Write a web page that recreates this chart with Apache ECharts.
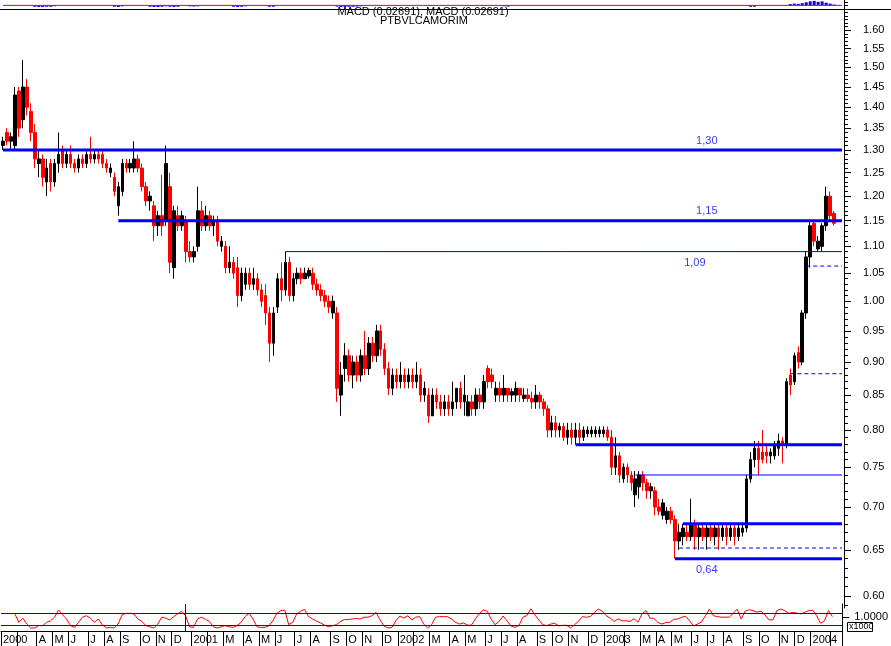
<!DOCTYPE html>
<html><head><meta charset="utf-8">
<script src="https://cdn.jsdelivr.net/npm/echarts@6/dist/echarts.min.js"></script>
<style>html,body{margin:0;padding:0;background:#fff}#c{width:891px;height:646px}</style>
</head><body><div id="c"></div>
<script>
// weekly categories (Friday of each week); last two are empty padding weeks
const weeks = [
'2000-02-04','2000-02-11','2000-02-18','2000-02-25','2000-03-03','2000-03-10','2000-03-17','2000-03-24','2000-03-31','2000-04-07','2000-04-14','2000-04-21','2000-04-28','2000-05-05','2000-05-12','2000-05-19','2000-05-26','2000-06-02','2000-06-09','2000-06-16','2000-06-23','2000-06-30','2000-07-07','2000-07-14','2000-07-21','2000-07-28','2000-08-04','2000-08-11','2000-08-18','2000-08-25','2000-09-01','2000-09-08','2000-09-15','2000-09-22','2000-09-29','2000-10-06','2000-10-13','2000-10-20','2000-10-27','2000-11-03','2000-11-10','2000-11-17','2000-11-24','2000-12-01','2000-12-08','2000-12-15','2000-12-22','2000-12-29',
'2001-01-05','2001-01-12','2001-01-19','2001-01-26','2001-02-02','2001-02-09','2001-02-16','2001-02-23','2001-03-02','2001-03-09','2001-03-16','2001-03-23','2001-03-30','2001-04-06','2001-04-13','2001-04-20','2001-04-27','2001-05-04','2001-05-11','2001-05-18','2001-05-25','2001-06-01','2001-06-08','2001-06-15','2001-06-22','2001-06-29','2001-07-06','2001-07-13','2001-07-20','2001-07-27','2001-08-03','2001-08-10','2001-08-17','2001-08-24','2001-08-31','2001-09-07','2001-09-14','2001-09-21','2001-09-28','2001-10-05','2001-10-12','2001-10-19','2001-10-26','2001-11-02','2001-11-09','2001-11-16','2001-11-23','2001-11-30','2001-12-07','2001-12-14','2001-12-21','2001-12-28',
'2002-01-04','2002-01-11','2002-01-18','2002-01-25','2002-02-01','2002-02-08','2002-02-15','2002-02-22','2002-03-01','2002-03-08','2002-03-15','2002-03-22','2002-03-29','2002-04-05','2002-04-12','2002-04-19','2002-04-26','2002-05-03','2002-05-10','2002-05-17','2002-05-24','2002-05-31','2002-06-07','2002-06-14','2002-06-21','2002-06-28','2002-07-05','2002-07-12','2002-07-19','2002-07-26','2002-08-02','2002-08-09','2002-08-16','2002-08-23','2002-08-30','2002-09-06','2002-09-13','2002-09-20','2002-09-27','2002-10-04','2002-10-11','2002-10-18','2002-10-25','2002-11-01','2002-11-08','2002-11-15','2002-11-22','2002-11-29','2002-12-06','2002-12-13','2002-12-20','2002-12-27',
'2003-01-03','2003-01-10','2003-01-17','2003-01-24','2003-01-31','2003-02-07','2003-02-14','2003-02-21','2003-02-28','2003-03-07','2003-03-14','2003-03-21','2003-03-28','2003-04-04','2003-04-11','2003-04-18','2003-04-25','2003-05-02','2003-05-09','2003-05-16','2003-05-23','2003-05-30','2003-06-06','2003-06-13','2003-06-20','2003-06-27','2003-07-04','2003-07-11','2003-07-18','2003-07-25','2003-08-01','2003-08-08','2003-08-15','2003-08-22','2003-08-29','2003-09-05','2003-09-12','2003-09-19','2003-09-26','2003-10-03','2003-10-10','2003-10-17','2003-10-24','2003-10-31','2003-11-07','2003-11-14','2003-11-21','2003-11-28','2003-12-05','2003-12-12','2003-12-19','2003-12-26',
'2004-01-02','2004-01-09','2004-01-16','2004-01-23','2004-01-30','2004-02-06','2004-02-13','2004-02-20'
];

const priceOpen = [
1.31,1.34,1.32,1.31,1.44,1.37,1.45,1.39,1.34,1.27,1.28,1.23,1.27,1.23,1.27,1.30,1.27,1.29,1.27,1.26,
1.28,1.27,1.29,1.28,1.29,1.29,1.27,1.25,1.24,1.18,1.21,1.27,1.26,1.26,1.28,1.26,1.22,1.19,1.18,1.14,
1.16,1.15,1.22,1.06,1.16,1.14,1.15,1.09,1.08,1.10,1.17,1.14,1.16,1.14,1.15,1.10,1.10,1.06,1.07,1.06,
1.01,1.03,1.05,1.03,1.04,1.02,1.01,0.98,0.93,0.99,1.04,1.02,1.07,1.01,1.04,1.05,1.04,1.045,1.05,1.03,
1.02,1.01,1.00,0.98,0.98,0.85,0.89,0.91,0.88,0.90,0.88,0.91,0.89,0.93,0.91,0.95,0.92,0.89,0.86,0.88,
0.87,0.88,0.87,0.88,0.87,0.88,0.85,0.85,0.82,0.85,0.84,0.83,0.84,0.83,0.84,0.86,0.84,0.82,0.84,0.83,
0.85,0.84,0.89,0.88,0.85,0.86,0.85,0.86,0.85,0.85,0.86,0.845,0.85,0.845,0.84,0.85,0.84,0.83,0.80,0.81,
0.80,0.805,0.79,0.80,0.79,0.80,0.79,0.795,0.795,0.795,0.795,0.795,0.80,0.79,0.75,0.765,0.735,0.75,0.74,0.715,
0.725,0.74,0.73,0.72,0.72,0.70,0.69,0.685,0.695,0.685,0.66,0.665,0.67,0.665,0.68,0.665,0.675,0.665,0.675,0.665,
0.675,0.665,0.675,0.665,0.675,0.665,0.67,0.675,0.735,0.76,0.775,0.77,0.77,0.765,0.765,0.775,0.785,0.78,0.88,0.87,
0.915,0.90,0.98,1.08,1.145,1.095,1.10,1.14,1.20,1.165
];
const priceClose = [
1.32,1.32,1.33,1.43,1.35,1.45,1.40,1.34,1.28,1.28,1.24,1.26,1.23,1.27,1.29,1.27,1.29,1.27,1.26,1.28,
1.27,1.29,1.28,1.29,1.28,1.27,1.26,1.26,1.21,1.22,1.27,1.26,1.27,1.28,1.26,1.22,1.19,1.20,1.14,1.16,
1.14,1.27,1.07,1.17,1.14,1.16,1.09,1.08,1.09,1.17,1.14,1.16,1.14,1.15,1.11,1.11,1.06,1.07,1.05,1.01,
1.05,1.05,1.03,1.04,1.02,1.00,0.98,0.93,0.98,1.04,1.02,1.07,1.01,1.04,1.05,1.04,1.05,1.055,1.03,1.02,
1.01,1.00,0.99,1.00,0.86,0.88,0.91,0.88,0.90,0.88,0.91,0.89,0.93,0.91,0.95,0.92,0.89,0.86,0.88,0.87,
0.88,0.87,0.88,0.87,0.88,0.85,0.86,0.82,0.85,0.84,0.83,0.84,0.83,0.84,0.86,0.84,0.85,0.84,0.83,0.85,
0.84,0.87,0.87,0.87,0.86,0.85,0.86,0.85,0.855,0.86,0.85,0.85,0.845,0.84,0.85,0.84,0.83,0.80,0.81,0.80,
0.805,0.79,0.80,0.79,0.80,0.79,0.80,0.80,0.80,0.80,0.80,0.80,0.79,0.75,0.765,0.74,0.75,0.74,0.73,0.735,
0.74,0.73,0.72,0.725,0.70,0.695,0.705,0.695,0.685,0.66,0.67,0.675,0.665,0.68,0.665,0.675,0.665,0.675,0.665,0.675,
0.665,0.675,0.665,0.675,0.665,0.675,0.675,0.735,0.76,0.775,0.76,0.76,0.765,0.77,0.78,0.785,0.78,0.87,0.865,0.91,
0.90,0.98,1.08,1.14,1.11,1.11,1.14,1.20,1.16,1.145
];
const priceLow = [
1.30,1.31,1.30,1.30,1.33,1.35,1.38,1.32,1.26,1.24,1.22,1.20,1.21,1.22,1.25,1.26,1.26,1.26,1.25,1.25,
1.26,1.26,1.27,1.27,1.27,1.26,1.25,1.24,1.20,1.16,1.20,1.25,1.25,1.25,1.25,1.21,1.18,1.17,1.11,1.12,
1.12,1.14,1.05,1.04,1.13,1.13,1.07,1.07,1.07,1.09,1.13,1.13,1.13,1.12,1.10,1.09,1.05,1.05,1.04,0.99,
1.00,1.02,1.02,1.02,1.01,0.99,0.96,0.90,0.91,0.98,1.00,1.01,1.00,1.00,1.03,1.03,1.04,1.04,1.02,1.01,
1.00,0.99,0.98,0.97,0.84,0.82,0.87,0.87,0.86,0.87,0.87,0.88,0.88,0.90,0.90,0.91,0.88,0.85,0.85,0.86,
0.86,0.86,0.86,0.86,0.86,0.84,0.84,0.81,0.82,0.83,0.82,0.82,0.82,0.82,0.83,0.83,0.82,0.82,0.82,0.82,
0.83,0.83,0.86,0.86,0.84,0.84,0.84,0.84,0.84,0.84,0.84,0.84,0.84,0.83,0.83,0.83,0.82,0.79,0.79,0.79,
0.79,0.785,0.78,0.78,0.78,0.78,0.785,0.79,0.79,0.79,0.79,0.79,0.785,0.74,0.74,0.73,0.73,0.73,0.72,0.70,
0.71,0.72,0.71,0.71,0.69,0.69,0.685,0.68,0.68,0.64,0.65,0.655,0.66,0.66,0.65,0.65,0.66,0.65,0.66,0.655,
0.65,0.66,0.655,0.66,0.655,0.66,0.665,0.67,0.73,0.75,0.74,0.755,0.755,0.755,0.76,0.765,0.755,0.775,0.85,0.865,
0.89,0.895,0.97,1.06,1.10,1.09,1.09,1.13,1.15,1.14
];
const priceHigh = [
1.33,1.35,1.34,1.45,1.45,1.52,1.47,1.41,1.36,1.30,1.29,1.28,1.28,1.28,1.34,1.31,1.30,1.31,1.28,1.29,
1.29,1.30,1.33,1.30,1.30,1.30,1.28,1.27,1.25,1.23,1.28,1.28,1.28,1.32,1.29,1.27,1.23,1.21,1.19,1.17,
1.245,1.31,1.25,1.18,1.18,1.17,1.16,1.11,1.10,1.22,1.19,1.18,1.17,1.16,1.16,1.12,1.11,1.10,1.08,1.08,
1.06,1.06,1.06,1.06,1.05,1.03,1.03,0.99,0.99,1.05,1.07,1.09,1.08,1.05,1.06,1.06,1.06,1.06,1.06,1.04,
1.03,1.02,1.01,1.01,0.99,0.90,0.93,0.92,0.91,0.91,0.92,0.95,0.94,0.94,0.96,0.96,0.93,0.90,0.89,0.89,
0.90,0.89,0.89,0.89,0.90,0.89,0.87,0.86,0.86,0.86,0.85,0.85,0.85,0.87,0.86,0.87,0.88,0.85,0.85,0.86,
0.86,0.88,0.895,0.89,0.87,0.87,0.88,0.86,0.86,0.87,0.86,0.86,0.86,0.855,0.865,0.855,0.845,0.835,0.82,0.82,
0.81,0.81,0.81,0.81,0.81,0.81,0.805,0.805,0.805,0.805,0.805,0.805,0.805,0.80,0.79,0.77,0.755,0.755,0.745,0.745,
0.745,0.745,0.735,0.73,0.725,0.71,0.71,0.70,0.70,0.69,0.68,0.68,0.68,0.71,0.685,0.68,0.68,0.68,0.68,0.68,
0.68,0.68,0.68,0.68,0.68,0.68,0.68,0.74,0.77,0.785,0.785,0.80,0.78,0.775,0.785,0.795,0.79,0.875,0.89,0.915,
0.925,0.985,1.09,1.15,1.15,1.12,1.145,1.22,1.21,1.17
];

// oscillator in the lower panel (weekly)
const oscValues = [
null,null,null,67,39,53,33,20,20,28,28,39,44,56,80,64,50,28,22,38,
56,61,53,39,50,31,20,22,20,33,64,69,69,67,50,42,28,24,20,33,
56,53,47,58,67,76,61,24,22,50,56,49,42,24,20,24,28,24,22,28,
39,58,69,50,24,22,22,27,44,69,78,80,31,39,67,76,82,58,50,43,
37,30,24,28,31,41,48,48,50,52,50,56,56,61,72,47,27,20,22,44,
60,53,61,47,56,58,33,20,31,56,58,58,58,50,39,33,37,30,29,50,
67,80,76,50,31,42,60,44,27,22,28,56,61,84,64,47,31,28,33,36,
27,29,29,20,31,42,58,56,58,72,83,76,61,53,42,50,44,44,42,51,
39,67,78,53,52,39,33,38,39,49,50,56,59,44,27,33,40,61,83,61,
58,56,56,56,69,83,50,76,81,78,73,76,64,47,47,78,83,78,69,72,
70,67,72,78,80,61,36,44,78,58
];
const oscLevels = [30, 70];
const oscAxisValues = [57];
const oscAxisLabels = ['1.0000'];
const cursorWeek = '2000-12-22';

// MACD histogram [week index, value] and MACD line
const macdHist = [
[8,-0.3],[9,-0.35],[10,-0.35],[11,-0.3],[12,-0.3],[13,-0.2],[28,-0.3],[29,-0.35],[30,-0.2],
[37,-0.3],[38,-0.35],[39,-0.35],[40,-0.3],[41,-0.2],[42,-0.3],[43,-0.35],[44,-0.3],
[47,-0.2],[48,-0.25],[49,-0.2],[58,-0.3],[59,-0.35],[60,-0.3],[61,-0.2],[67,-0.3],[68,-0.3],
[84,-0.25],[85,-0.35],[86,-0.35],[87,-0.3],[88,-0.3],[89,-0.25],[90,-0.2],[126,-0.2],[127,-0.25],
[188,-0.3],[189,-0.3],[198,0.3],[199,0.4],[200,0.35],[201,0.5],[202,0.7],[203,0.9],[204,1.0],
[205,0.8],[206,0.9],[207,0.6],[208,0.4],[209,0.2]
];
const macdLine = [[0,0],[211,0]];

// support / resistance levels
const levelValues = [1.30, 1.15, 1.09, 1.063, 0.882, 0.78, 0.74, 0.68, 0.652, 0.64];
const levelFrom = ['2000-02-04','2000-08-25','2001-06-15','2003-12-19','2003-11-21','2002-11-08','2003-02-21','2003-05-16','2003-05-09','2003-05-02'];
const levelTo = '2004-02-20';
const levelLabelValues = [1.30, 1.15, 1.09, 0.64];
const levelLabelWeeks = ['2003-06-27','2003-06-27','2003-06-06','2003-06-27'];

// axis tick labels
const yTickLabels = ['0.60','0.65','0.70','0.75','0.80','0.85','0.90','0.95','1.00','1.05','1.10','1.15','1.20','1.25','1.30','1.35','1.40','1.45','1.50','1.55','1.60'];
const monthTickLabels = ['2000','','A','M','J','J','A','S','O','N','D',
'2001','','M','A','M','J','J','A','S','O','N','D',
'2002','','M','A','M','J','J','A','S','O','N','D',
'2003','','M','A','M','J','J','A','S','O','N','D',
'2004',''];
const titleLines = ['MACD (0.02691), MACD (0.02691)', 'PTBVLCAMORIM'];

// ---------- build ----------
const FONT = 'Liberation Sans, Arial, sans-serif';
const BLUE = '#0000ff';
const monthLabelAt = {};
let k = 0;
weeks.forEach((d, i) => {
  if (i === 0 || d.slice(5, 7) !== weeks[i - 1].slice(5, 7)) { monthLabelAt[i] = monthTickLabels[k++] || ''; }
});
const isMonthStart = (i) => Object.prototype.hasOwnProperty.call(monthLabelAt, i);

const minorTicks = [];
for (let t = 59; t <= 166; t++) minorTicks.push(t / 100);
const yMin = 0.5876, yMax = 1.660;

const candles = priceOpen.map((o, i) => [o, priceClose[i], priceLow[i], priceHigh[i]]);

const levelWidths = [3, 3, 1, 1, 1, 3, 1, 3, 1, 3];
const levelTypes = ['solid','solid','solid',[4,3],[4,3],'solid','solid','solid',[4,3],'solid'];
const levelSeries = levelValues.map((v, j) => ({
  type: 'line', xAxisIndex: 1, yAxisIndex: 1, silent: true, symbol: 'none', animation: false,
  data: [[levelFrom[j], v], [levelTo, v]],
  lineStyle: { color: BLUE, width: levelWidths[j], type: levelTypes[j] },
  z: 5
}));
const labelPos = ['top', 'top', 'bottom', 'bottom'];
const labelSeries = {
  type: 'scatter', xAxisIndex: 1, yAxisIndex: 1, symbolSize: 0, silent: true,
  data: levelLabelValues.map((v, j) => ({
    value: [levelLabelWeeks[j], v],
    label: { show: true, position: labelPos[j], distance: labelPos[j] === 'top' ? 4 : 6,
      formatter: () => v.toFixed(2).replace('.', ','), color: BLUE, fontSize: 11, fontFamily: FONT }
  })),
  z: 6
};

const hiddenX = (g) => ({ type: 'category', gridIndex: g, data: weeks, boundaryGap: true,
  axisLine: { show: false }, axisTick: { show: false }, axisLabel: { show: false }, splitLine: { show: false } });

const option = {
  animation: false,
  backgroundColor: '#ffffff',
  grid: [
    { left: 1, right: 47, top: 0, height: 9 },
    { left: 1, right: 47, top: 9, height: 599 },
    { left: 1, right: 47, top: 604, height: 27 }
  ],
  xAxis: [
    hiddenX(0),
    hiddenX(1),
    { type: 'category', gridIndex: 2, data: weeks, boundaryGap: true,
      axisLine: { show: true, lineStyle: { color: '#000', width: 1 } },
      axisTick: { show: true, length: 15, interval: (i) => isMonthStart(i), lineStyle: { color: '#000', width: 1 } },
      axisLabel: { show: true, interval: (i) => isMonthStart(i), formatter: (val, i) => monthLabelAt[i] || '',
        align: 'left', margin: 3, color: '#000', fontSize: 11, fontFamily: FONT },
      splitLine: { show: false } }
  ],
  yAxis: [
    { type: 'value', gridIndex: 0, position: 'right', min: -0.8, max: 1.2,
      axisLine: { show: true, lineStyle: { color: '#000' } },
      axisTick: { show: true, customValues: [0, 0.8], length: 4, lineStyle: { color: '#000' } },
      axisLabel: { show: false }, splitLine: { show: false } },
    { type: 'log', logBase: 10, gridIndex: 1, position: 'right', min: yMin, max: yMax,
      axisLine: { show: true, lineStyle: { color: '#000' } },
      axisTick: { show: true, customValues: yTickLabels.map(Number), length: 7, lineStyle: { color: '#000' } },
      axisLabel: { show: true, customValues: yTickLabels.map(Number), formatter: (v) => Number(v).toFixed(2),
        margin: 19, color: '#000', fontSize: 11, fontFamily: FONT },
      splitLine: { show: false } },
    { type: 'log', logBase: 10, gridIndex: 1, position: 'right', min: yMin, max: yMax,
      axisLine: { show: false },
      axisTick: { show: true, customValues: minorTicks, length: 4, lineStyle: { color: '#000' } },
      axisLabel: { show: false }, splitLine: { show: false } },
    { type: 'value', gridIndex: 2, position: 'right', min: 10, max: 100,
      axisLine: { show: true, lineStyle: { color: '#000' } },
      axisTick: { show: true, customValues: oscAxisValues, length: 7, lineStyle: { color: '#000' } },
      axisLabel: { show: true, customValues: oscAxisValues, formatter: () => oscAxisLabels[0],
        margin: 12, color: '#000', fontSize: 11, fontFamily: FONT },
      splitLine: { show: false } }
  ],
  series: [
    { type: 'bar', xAxisIndex: 0, yAxisIndex: 0, data: macdHist, barWidth: 3, itemStyle: { color: BLUE }, silent: true },
    { type: 'line', xAxisIndex: 0, yAxisIndex: 0, data: macdLine, symbol: 'none', lineStyle: { color: '#ff0000', width: 1 }, silent: true },
    { type: 'candlestick', xAxisIndex: 1, yAxisIndex: 1, data: candles, barWidth: 3, silent: true,
      itemStyle: { color: '#000000', color0: '#ff0000', borderColor: '#000000', borderColor0: '#ff0000', borderWidth: 1 }, z: 3 },
    ...levelSeries,
    labelSeries,
    { type: 'line', xAxisIndex: 2, yAxisIndex: 3, data: oscValues, symbol: 'none', silent: true,
      lineStyle: { color: '#ff0000', width: 1 }, z: 4,
      markLine: { symbol: 'none', silent: true, label: { show: false }, animation: false,
        data: [
          { yAxis: oscLevels[0], lineStyle: { color: BLUE, width: 1, type: 'solid' } },
          { yAxis: oscLevels[1], lineStyle: { color: BLUE, width: 1, type: 'solid' } },
          { xAxis: cursorWeek, lineStyle: { color: BLUE, width: 1, type: 'solid' } }
        ] } }
  ],
  graphic: [
    { type: 'line', shape: { x1: 0, y1: 9.5, x2: 891, y2: 9.5 }, style: { stroke: '#000', lineWidth: 1 }, z: 100 },
    { type: 'text', x: 423, y: 6, z: 101, style: { text: titleLines[0], textAlign: 'center', fill: '#000', font: '11px ' + FONT } },
    { type: 'text', x: 424, y: 15, z: 101, style: { text: titleLines[1], textAlign: 'center', fill: '#000', font: '11px ' + FONT } },
    { type: 'rect', shape: { x: 847.5, y: 622.5, width: 25, height: 9 }, style: { fill: '#fff', stroke: '#000', lineWidth: 1 }, z: 100 },
    { type: 'text', x: 849, y: 622, z: 101, style: { text: 'x1000', fill: '#000', font: '9px ' + FONT } }
  ]
};
const chart = echarts.init(document.getElementById('c'), null, { renderer: 'canvas' });
chart.setOption(option);
</script>
</body></html>
